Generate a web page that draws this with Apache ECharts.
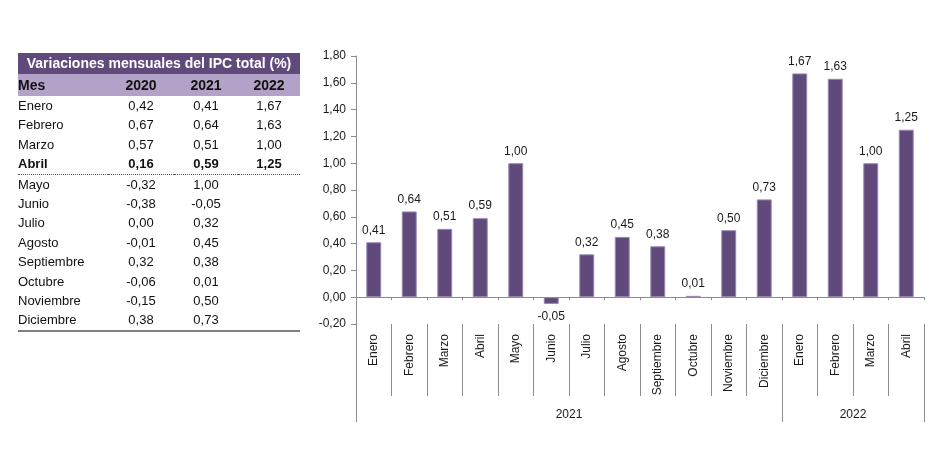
<!DOCTYPE html>
<html>
<head>
<meta charset="utf-8">
<script src="https://cdn.jsdelivr.net/npm/echarts@6/dist/echarts.min.js"></script>
<style>
    html, body { margin: 0; padding: 0; background: #fff; }
    #chart-container { width: 949px; height: 454px; position: absolute; left: 0; top: 0; }
    #ipc-table {
        position: absolute; left: 18px; top: 53px; width: 282px;
        border-collapse: collapse; font-family: 'Liberation Sans', Arial, sans-serif;
        font-size: 13px; color: #111;
    }
    #ipc-table td { padding: 0; height: 19.4px; line-height: 19.4px; white-space: nowrap; }
    #ipc-table td.num { text-align: center; }
    #ipc-table tr.title td {
        background: #604a7b; color: #fff; font-weight: bold; font-size: 14px;
        height: 20.6px; line-height: 20.6px; text-align: center;
    }
    #ipc-table tr.head td {
        background: #b3a2c7; font-weight: bold; font-size: 14px;
        height: 22.4px; line-height: 22.4px;
    }
    #ipc-table tr.bold td { font-weight: bold; border-bottom: 1px dotted #555; }
    #ipc-table tr.last td { border-bottom: 2px solid #808080; }
</style>
</head>
<body>
<div id="chart-container"></div>
<table id="ipc-table"></table>
<script>
// tabla de la izquierda
var tableTitle = 'Variaciones mensuales del IPC total (%)';
var tableHeader = ['Mes', '2020', '2021', '2022'];
var tableMonths = ['Enero', 'Febrero', 'Marzo', 'Abril', 'Mayo', 'Junio', 'Julio',
    'Agosto', 'Septiembre', 'Octubre', 'Noviembre', 'Diciembre'];
var ipc2020 = [0.42, 0.67, 0.57, 0.16, -0.32, -0.38, 0.00, -0.01, 0.32, -0.06, -0.15, 0.38];
var ipc2021 = [0.41, 0.64, 0.51, 0.59, 1.00, -0.05, 0.32, 0.45, 0.38, 0.01, 0.50, 0.73];
var ipc2022 = [1.67, 1.63, 1.00, 1.25];
var boldRow = 3; // Abril

// grafico
var months = ['Enero', 'Febrero', 'Marzo', 'Abril', 'Mayo', 'Junio', 'Julio', 'Agosto',
    'Septiembre', 'Octubre', 'Noviembre', 'Diciembre', 'Enero', 'Febrero', 'Marzo', 'Abril'];
var monthlyValues = [0.41, 0.64, 0.51, 0.59, 1.00, -0.05, 0.32, 0.45, 0.38, 0.01, 0.50, 0.73,
    1.67, 1.63, 1.00, 1.25];
var years = ['2021', '2022'];
var yearCounts = [12, 4];

var FONT = 'Liberation Sans';
var TEXT_COLOR = '#1a1a1a';
var AXIS_COLOR = '#8c8c8c';
var BAR_COLOR = '#604a7b';

function fmt(v) {
    return v.toFixed(2).replace('.', ',');
}

function buildTable() {
    var html = '<tr class="title"><td colspan="4">' + tableTitle + '</td></tr>';
    html += '<tr class="head">';
    tableHeader.forEach(function (h, i) {
        html += '<td' + (i > 0 ? ' class="num"' : '') + '>' + h + '</td>';
    });
    html += '</tr>';
    tableMonths.forEach(function (m, i) {
        var cls = '';
        if (i == boldRow) cls = 'bold';
        if (i == tableMonths.length - 1) cls = 'last';
        html += '<tr class="' + cls + '"><td>' + m + '</td>';
        [ipc2020, ipc2021, ipc2022].forEach(function (col) {
            html += '<td class="num">' + (i < col.length ? fmt(col[i]) : '') + '</td>';
        });
        html += '</tr>';
    });
    document.getElementById('ipc-table').innerHTML = html;
    var cols = [90, 66, 64, 62];
    var firstRow = document.querySelector('#ipc-table tr.head').children;
    for (var i = 0; i < cols.length; i++) {
        firstRow[i].style.width = cols[i] + 'px';
    }
}

// limites y centros de los grupos de anio
var yearBounds = [0];
var yearCenters = [];
yearCounts.forEach(function (c) {
    var start = yearBounds[yearBounds.length - 1];
    yearCenters.push(start + c / 2);
    yearBounds.push(start + c);
});

buildTable();

var chart = echarts.init(document.getElementById('chart-container'));

var option = {
    animation: false,
    textStyle: { fontFamily: FONT },
    grid: { left: 356, right: 25, top: 56, bottom: 130 },
    xAxis: [{
        type: 'category',
        data: months,
        axisLine: { onZero: true, lineStyle: { color: AXIS_COLOR } },
        axisTick: { show: true, length: 3, interval: 0, lineStyle: { color: AXIS_COLOR } },
        axisLabel: { show: false }
    }, {
        type: 'category',
        data: months,
        position: 'bottom',
        axisLine: { show: false, onZero: false },
        axisTick: { show: true, length: 72, interval: 0, lineStyle: { color: AXIS_COLOR } },
        axisLabel: {
            interval: 0, rotate: 90, margin: 10,
            fontSize: 12, color: TEXT_COLOR, fontFamily: FONT
        }
    }, {
        type: 'value',
        min: 0,
        max: months.length,
        position: 'bottom',
        splitLine: { show: false },
        axisLine: { show: false, onZero: false },
        axisTick: { show: true, length: 98, customValues: yearBounds, lineStyle: { color: AXIS_COLOR } },
        axisLabel: {
            customValues: yearCenters,
            margin: 85, fontSize: 12, color: TEXT_COLOR, fontFamily: FONT,
            formatter: function (v) {
                var idx = yearCenters.indexOf(v);
                return idx >= 0 ? years[idx] : '';
            }
        }
    }],
    yAxis: {
        type: 'value',
        min: -0.2,
        max: 1.8,
        interval: 0.2,
        splitLine: { show: false },
        axisLine: { show: true, lineStyle: { color: AXIS_COLOR } },
        axisTick: { show: true, length: 5, lineStyle: { color: AXIS_COLOR } },
        axisLabel: {
            margin: 10, fontSize: 12, color: TEXT_COLOR, fontFamily: FONT,
            formatter: function (v) { return fmt(v); }
        }
    },
    series: [{
        type: 'bar',
        xAxisIndex: 0,
        barWidth: '42%',
        itemStyle: { color: BAR_COLOR, borderColor: '#9a87b3', borderWidth: 1 },
        label: {
            show: true, fontSize: 12, color: TEXT_COLOR, fontFamily: FONT,
            distance: 6,
            formatter: function (p) { return fmt(p.value); }
        },
        data: monthlyValues.map(function (v) {
            return v < 0 ? { value: v, label: { position: 'bottom', distance: 7 } }
                         : { value: v, label: { position: 'top' } };
        })
    }]
};

chart.setOption(option);
</script>
</body>
</html>
